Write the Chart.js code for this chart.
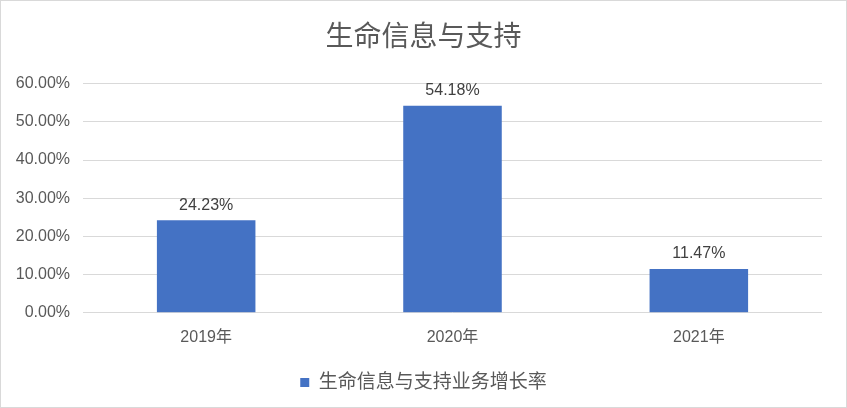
<!DOCTYPE html>
<html>
<head>
<meta charset="utf-8">
<script src="https://cdn.jsdelivr.net/npm/chart.js@4.4.1/dist/chart.umd.min.js"></script>
<style>
  html, body { margin: 0; padding: 0; background: #fff; }
  .card { width: 845px; height: 406px; border: 1px solid #d9d9d9; }
</style>
</head>
<body>
<div class="card"><canvas id="growthChart" width="845" height="406"></canvas></div>
<script>
// 데이터
const categories = ["2019年", "2020年", "2021年"];
const growthRate = [24.23, 54.18, 11.47];
const yTicks = [0, 10, 20, 30, 40, 50, 60];
const seriesName = "生命信息与支持业务增长率";
const titleText = "生命信息与支持";

const FONT = '"Liberation Sans", "Noto Sans CJK SC", sans-serif';
const TEXT = "#595959";

// 제목/범례 박스를 캔버스 전체 폭 기준으로 가운데 정렬
const centerBlocks = {
  id: "centerBlocks",
  afterLayout(chart) {
    [chart.titleBlock, chart.legend].forEach((b) => {
      if (!b) return;
      const w = b.right - b.left;
      b.left = (chart.width - w) / 2;
      b.right = b.left + w;
    });
  }
};

// 막대 위 값 라벨
const barLabels = {
  id: "barLabels",
  afterDatasetsDraw(chart) {
    const { ctx } = chart;
    const meta = chart.getDatasetMeta(0);
    ctx.save();
    ctx.font = "16px " + FONT;
    ctx.fillStyle = "#404040";
    ctx.textAlign = "center";
    ctx.textBaseline = "middle";
    meta.data.forEach((bar, i) => {
      ctx.fillText(growthRate[i].toFixed(2) + "%", bar.x, bar.y - 15);
    });
    ctx.restore();
  }
};

new Chart(document.getElementById("growthChart"), {
  type: "bar",
  data: {
    labels: categories,
    datasets: [{
      label: seriesName,
      data: growthRate,
      backgroundColor: "#4472c4",
      barPercentage: 1,
      categoryPercentage: 0.4
    }]
  },
  options: {
    responsive: false,
    animation: false,
    layout: { padding: { left: 2, right: 24, top: 0, bottom: 5 } },
    plugins: {
      title: {
        display: true,
        text: titleText,
        color: TEXT,
        font: { family: FONT, size: 28, weight: "normal" },
        padding: { top: 20, bottom: 29 }
      },
      legend: {
        position: "bottom",
        labels: {
          color: TEXT,
          font: { family: FONT, size: 19 },
          boxWidth: 9,
          boxHeight: 9,
          padding: 19
        }
      },
      tooltip: { enabled: false }
    },
    scales: {
      x: {
        grid: { display: false },
        border: { display: false },
        ticks: { color: TEXT, font: { family: FONT, size: 16 }, padding: 7 }
      },
      y: {
        min: yTicks[0],
        max: yTicks[yTicks.length - 1],
        afterBuildTicks: (axis) => { axis.ticks = yTicks.map(v => ({ value: v })); },
        afterFit: (axis) => { axis.width = 80; },
        grid: { color: "#d9d9d9", drawTicks: false, lineWidth: 1 },
        border: { display: false },
        ticks: {
          color: TEXT,
          font: { family: FONT, size: 16 },
          padding: 13,
          callback: (v) => Number(v).toFixed(2) + "%"
        }
      }
    }
  },
  plugins: [barLabels, centerBlocks]
});
</script>
</body>
</html>
